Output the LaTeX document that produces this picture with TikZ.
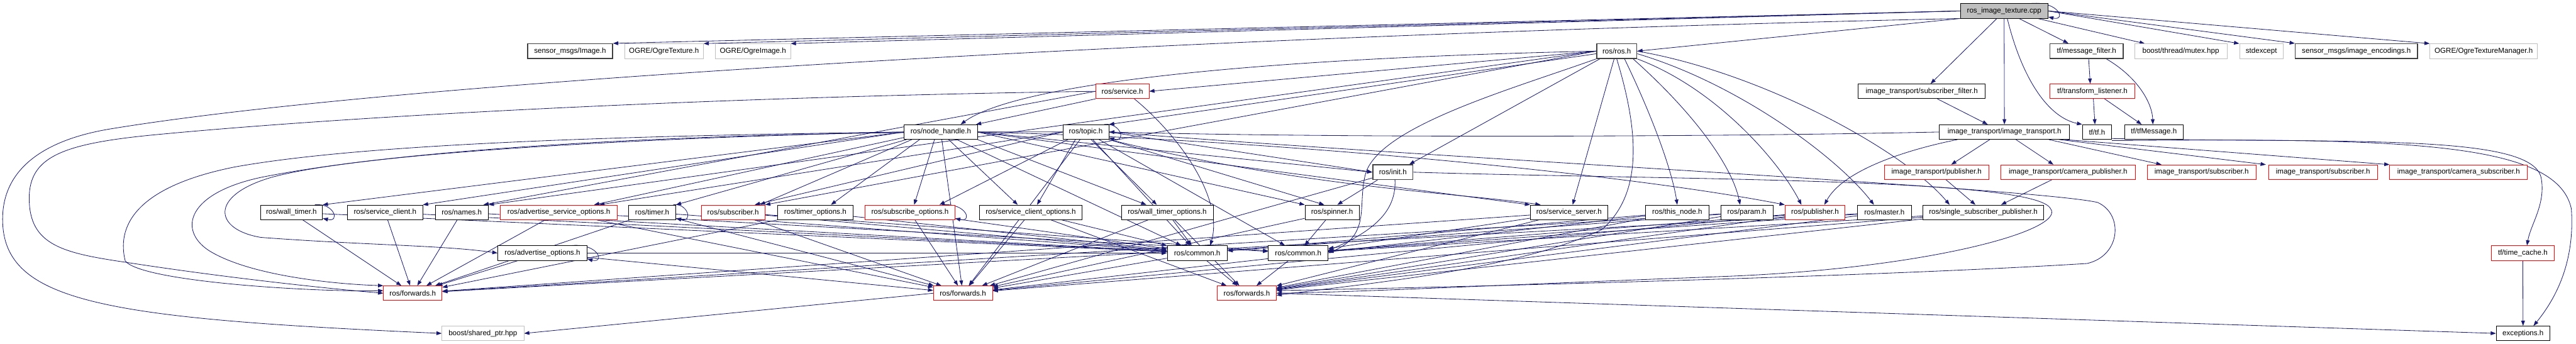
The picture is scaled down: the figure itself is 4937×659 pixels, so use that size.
\documentclass[tikz,border=0pt]{standalone}
\usepackage{fontspec}
\setmainfont{Liberation Sans}
\usetikzlibrary{arrows.meta,calc}
\definecolor{ed}{RGB}{25,25,112}
\definecolor{lgr}{RGB}{191,191,191}
\pgfdeclarelayer{bg}
\pgfsetlayers{bg,main}
\tikzset{
  nd/.style={draw=black, line width=0.5pt, fill=white, rectangle, minimum height=14pt, inner sep=0pt, font=\fontsize{7}{8}\selectfont},
  rd/.style={nd, draw=red},
  lg/.style={nd, draw=lgr},
  dk/.style={nd, draw=black!75, line width=0.9pt},
  edg/.style={draw=ed, line width=0.5pt, -{Triangle[length=5pt,width=3.6pt]}},
}
\begin{document}
\begin{tikzpicture}[x=0.5pt,y=-0.5pt]
\useasboundingbox (0,0) rectangle (4937,659);
% row 0
\node[nd, fill=lgr, minimum width=84pt] (cpp) at (3841,21) {ros\_image\_texture.cpp};
% row 1
\node[dk, minimum width=81.5pt] (smimg) at (1092.5,98) {sensor\_msgs/Image.h};
\node[lg, minimum width=75.5pt] (ogtex) at (1272.5,98) {OGRE/OgreTexture.h};
\node[lg, minimum width=72pt] (ogimg) at (1443,98) {OGRE/OgreImage.h};
\node[dk, minimum width=38.5pt] (ros) at (3098.5,98) {ros/ros.h};
\node[dk, minimum width=70pt] (mf) at (3999,98) {tf/message\_filter.h};
\node[lg, minimum width=88.5pt] (mutex) at (4179.5,98) {boost/thread/mutex.hpp};
\node[lg, minimum width=42pt] (stdex) at (4334,98) {stdexcept};
\node[dk, minimum width=117pt] (enc) at (4516,98) {sensor\_msgs/image\_encodings.h};
\node[lg, minimum width=103pt] (ogtm) at (4760,98) {OGRE/OgreTextureManager.h};
% row 2
\node[rd, minimum width=51pt] (svc) at (2151,175) {ros/service.h};
\node[nd, minimum width=122pt] (sf) at (3683,175) {image\_transport/subscriber\_filter.h};
\node[rd, minimum width=81pt] (tl) at (4010,175) {tf/transform\_listener.h};
% row 3
\node[nd, minimum width=70pt] (nh) at (1803,253) {ros/node\_handle.h};
\node[nd, minimum width=44pt] (topic) at (2081,253) {ros/topic.h};
\node[nd, minimum width=124.5pt] (it) at (3841.5,253) {image\_transport/image\_transport.h};
\node[nd, minimum width=28pt] (tf) at (4019,253) {tf/tf.h};
\node[nd, minimum width=56pt] (tfm) at (4128,253) {tf/tfMessage.h};
% row 4
\node[dk, minimum width=38.5pt] (init) at (2669.5,330) {ros/init.h};
\node[rd, minimum width=100.5pt] (itpub) at (3711.5,330) {image\_transport/publisher.h};
\node[rd, minimum width=128.5pt] (itcp) at (3963.5,330) {image\_transport/camera\_publisher.h};
\node[rd, minimum width=104.5pt] (itsub1) at (4219.5,330) {image\_transport/subscriber.h};
\node[rd, minimum width=104pt] (itsub2) at (4452,330) {image\_transport/subscriber.h};
\node[rd, minimum width=132pt] (itcs) at (4712,330) {image\_transport/camera\_subscriber.h};
% row 5
\node[nd, minimum width=59.5pt] (wt) at (558.5,407) {ros/wall\_timer.h};
\node[nd, minimum width=72pt] (sc) at (738,407) {ros/service\_client.h};
\node[nd, minimum width=51pt] (names) at (885,407) {ros/names.h};
\node[rd, minimum width=112pt] (aso) at (1071,407) {ros/advertise\_service\_options.h};
\node[nd, minimum width=45pt] (timer) at (1250,407) {ros/timer.h};
\node[rd, minimum width=61pt] (sub) at (1405,407) {ros/subscriber.h};
\node[nd, minimum width=72.5pt] (tmo) at (1562.5,407) {ros/timer\_options.h};
\node[rd, minimum width=86pt] (so) at (1744,407) {ros/subscribe\_options.h};
\node[nd, minimum width=98.5pt] (sco) at (1975.5,407) {ros/service\_client\_options.h};
\node[nd, minimum width=88pt] (wto) at (2237,407) {ros/wall\_timer\_options.h};
\node[nd, minimum width=52pt] (spin) at (2553,407) {ros/spinner.h};
\node[nd, minimum width=74pt] (ss) at (3007,407) {ros/service\_server.h};
\node[nd, minimum width=60.5pt] (tn) at (3214.5,407) {ros/this\_node.h};
\node[nd, minimum width=50pt] (param) at (3348,407) {ros/param.h};
\node[rd, minimum width=57.5pt] (pub) at (3478.5,407) {ros/publisher.h};
\node[nd, minimum width=51.5pt] (master) at (3611.5,407) {ros/master.h};
\node[nd, minimum width=116pt] (ssp) at (3801,407) {ros/single\_subscriber\_publisher.h};
% row 6
\node[nd, minimum width=85.5pt] (ao) at (1039.5,485) {ros/advertise\_options.h};
\node[nd, minimum width=57.5pt] (com1) at (2294.5,485) {ros/common.h};
\node[nd, minimum width=57pt] (com2) at (2488,485) {ros/common.h};
\node[rd, minimum width=60pt] (tc) at (4835,485) {tf/time\_cache.h};
% row 7
\node[rd, minimum width=56pt] (fw1) at (791,562) {ros/forwards.h};
\node[rd, minimum width=56.5pt] (fw2) at (1845.5,562) {ros/forwards.h};
\node[rd, minimum width=56.5pt] (fw3) at (2389.5,562) {ros/forwards.h};
% row 8
\node[lg, minimum width=78.5pt] (shp) at (925.5,639) {boost/shared\_ptr.hpp};
\node[nd, minimum width=51.5pt] (exc) at (4835.5,639) {exceptions.h};

\begin{pgfonlayer}{bg}
% ---- cpp
\draw[edg] ($(cpp.north east)+(-32,0)$) .. controls ($(cpp.north east)+(22,-4)$) and ($(cpp.south east)+(34,5)$) .. ($(cpp.south east)+(0,-3)$);
\draw[edg] (cpp.west) -- (smimg.north east);
\draw[edg] (cpp.west) -- (ogtex.north east);
\draw[edg] (cpp.west) -- (ogimg.north east);
\draw[edg] (cpp.south west) -- (ros.east);
\draw[edg] (cpp.south west) .. controls (2400,65) and (800,150) .. (212,247) .. controls (90,267) and (5,320) .. (5,420) .. controls (5,580) and (200,610) .. (shp.west);
\draw[edg] ($(cpp.south)+(-14,0)$) -- ($(sf.north)+(17,0)$);
\draw[edg] (cpp.south) -- (it.north);
\draw[edg] ($(cpp.south)+(6,0)$) .. controls (3875,150) and (3925,225) .. (tf.north west);
\draw[edg] ($(cpp.south east)+(-56,0)$) -- ($(mf.north west)+(36,0)$);
\draw[edg] ($(cpp.south east)+(-20,0)$) -- ($(mutex.north west)+(20,0)$);
\draw[edg] (cpp.east) -- (stdex.north west);
\draw[edg] (cpp.east) -- (enc.north west);
\draw[edg] (cpp.east) -- (ogtm.north west);
% ---- ros
\draw[edg] (ros.west) -- (svc.east);
\draw[edg] (ros.west) .. controls (2400,112) and (1950,160) .. ($(nh.north)+(38,0)$);
\draw[edg] ($(ros.west)+(0,5)$) -- (topic.north east);
\draw[edg] ($(ros.south west)+(7,0)$) -- ($(init.north east)+(-8,0)$);
\draw[edg] (ros.south west) .. controls (2900,170) and (2650,240) .. (2618,330) .. controls (2600,390) and (2630,450) .. (com2.east);
\draw[edg] ($(ros.south)+(-5,0)$) -- ($(ss.north)+(7,0)$);
\draw[edg] (ros.south) .. controls (3140,250) and (3150,370) .. (3070,440) .. controls (2900,520) and (2600,545) .. ($(fw3.east)+(0,4)$);
\draw[edg] ($(ros.south)+(15,0)$) .. controls (3170,230) and (3205,330) .. (tn.north);
\draw[edg] ($(ros.south east)+(-8,0)$) .. controls (3250,220) and (3320,320) .. ($(param.north)+(-13,0)$);
\draw[edg] (ros.south east) .. controls (3290,170) and (3410,310) .. ($(pub.north)+(-26,0)$);
\draw[edg] ($(ros.east)+(0,5)$) .. controls (3330,160) and (3520,300) .. ($(master.north)+(-20,0)$);
\draw[edg] (ros.east) .. controls (3380,140) and (3650,290) .. ($(ssp.north west)+(52,0)$);
\draw[edg] (ros.west) -- (sub.north east);
\draw[edg] (ros.west) -- (names.north east);
% ---- service
\draw[edg] (svc.south west) -- ($(nh.north east)+(-3,0)$);
\draw[edg] (svc.west) -- ($(names.north east)+(-10,0)$);
\draw[edg] (svc.west) .. controls (1400,185) and (700,220) .. (300,258) .. controls (120,275) and (56,300) .. (56,380) .. controls (56,470) and (120,485) .. (243,503) .. controls (450,535) and (650,555) .. (fw1.west);
\draw[edg] ($(svc.south)+(23,0)$) .. controls (2260,260) and (2345,380) .. ($(com1.north)+(25,0)$);
% ---- tf side
\draw[edg] ($(sf.south)+(30,0)$) -- ($(it.north)+(-32,0)$);
\draw[edg] ($(mf.south)+(4,0)$) -- ($(tl.north)+(-4,0)$);
\draw[edg] ($(mf.south east)+(-33,0)$) .. controls (4100,150) and (4125,200) .. ($(tfm.north)+(-2,0)$);
\draw[edg] ($(tl.south)+(2,0)$) -- ($(tf.north)+(-4,0)$);
\draw[edg] ($(tl.south east)+(-58,0)$) -- ($(tfm.north west)+(33,0)$);
\draw[edg] ($(tf.south east)+(0,-2)$) .. controls (4500,275) and (4850,255) .. (4870,340) .. controls (4880,390) and (4850,430) .. ($(tc.north)+(8,0)$);
\draw[edg] ($(tf.south east)+(0,2)$) .. controls (4600,265) and (4900,270) .. (4928,400) .. controls (4935,500) and (4900,570) .. ($(exc.north)+(20,0)$);
\draw[edg] (tc.south) -- (exc.north);
% ---- image transport
\draw[edg] ($(it.south)+(-28,0)$) -- ($(itpub.north)+(28,0)$);
\draw[edg] ($(it.south)+(22,0)$) -- ($(itcp.north)+(-28,0)$);
\draw[edg] ($(it.south east)+(-40,0)$) -- ($(itsub1.north west)+(28,0)$);
\draw[edg] ($(it.south east)+(-20,0)$) -- ($(itsub2.north west)+(-5,0)$);
\draw[edg] ($(it.south east)+(-10,0)$) -- (itcs.north west);
\draw[edg] ($(it.south west)+(35,0)$) .. controls (3640,290) and (3530,330) .. ($(pub.north)+(18,0)$);
\draw[edg] (it.west) .. controls (3300,262) and (2600,265) .. (topic.east);
\draw[edg] ($(itpub.south)+(18,0)$) -- ($(ssp.north)+(-15,0)$);
\draw[edg] ($(itcp.south west)+(98,0)$) -- ($(ssp.north)+(34,0)$);
% ---- node_handle
\draw[edg] (nh.west) -- (wt.north east);
\draw[edg] (nh.west) -- (sc.north east);
\draw[edg] ($(nh.south west)+(0,-4)$) -- ($(aso.north east)+(-45,0)$);
\draw[edg] ($(nh.south west)+(5,0)$) -- (timer.north east);
\draw[edg] ($(nh.south west)+(15,0)$) -- ($(sub.north east)+(-10,0)$);
\draw[edg] ($(nh.south west)+(30,0)$) -- ($(tmo.north)+(30,0)$);
\draw[edg] ($(nh.south)+(-12,0)$) -- ($(so.north)+(8,0)$);
\draw[edg] ($(nh.south)+(15,0)$) -- ($(sco.north)+(-25,0)$);
\draw[edg] (nh.south east) -- ($(wto.north)+(-40,0)$);
\draw[edg] (nh.east) -- (spin.north west);
\draw[edg] (nh.east) -- (ss.north west);
\draw[edg] (nh.east) .. controls (2400,265) and (3100,330) .. (pub.north west);
\draw[edg] (nh.east) -- (init.west);
\draw[edg] (nh.west) .. controls (1300,262) and (700,290) .. (520,340) .. controls (400,375) and (410,440) .. (500,455) .. controls (700,470) and (850,470) .. (ao.west);
\draw[edg] (nh.west) .. controls (1200,260) and (700,275) .. (450,320) .. controls (250,360) and (225,440) .. (240,500) .. controls (270,540) and (600,560) .. ($(fw1.west)+(0,-5)$);
% ---- topic
\draw[edg] ($(topic.north east)+(-9,0)$) .. controls ($(topic.north east)+(22,-4)$) and ($(topic.south east)+(34,5)$) .. ($(topic.south east)+(0,-3)$);
\draw[edg] (topic.west) -- ($(sub.north east)+(-20,0)$);
\draw[edg] (topic.west) -- ($(aso.north east)+(-35,0)$);
\draw[edg] ($(topic.south west)+(10,0)$) -- ($(so.north east)+(-30,0)$);
\draw[edg] ($(topic.south)+(-20,0)$) -- ($(sco.north)+(12,0)$);
\draw[edg] ($(topic.south)+(10,0)$) -- ($(wto.north)+(-20,0)$);
\draw[edg] (topic.south east) -- ($(spin.north)+(-15,0)$);
\draw[edg] (topic.south east) .. controls (2500,360) and (2800,370) .. ($(ss.north west)+(20,0)$);
\draw[edg] (topic.east) -- (init.west);
\draw[edg] (topic.west) .. controls (1400,250) and (800,280) .. (500,340) .. controls (360,370) and (340,440) .. (400,480) .. controls (480,530) and (650,545) .. (fw1.north west);
\draw[edg] (topic.east) .. controls (2700,300) and (3900,360) .. (4020,388) .. controls (4070,410) and (4065,490) .. (4000,505) .. controls (3600,530) and (2800,550) .. ($(fw3.east)+(0,-5)$);
% ---- init
\draw[edg] ($(init.south west)+(10,0)$) -- ($(spin.north)+(10,0)$);
\draw[edg] ($(init.south)+(4,0)$) .. controls (2676,400) and (2640,440) .. ($(com2.east)+(0,-5)$);
\draw[edg] (init.east) .. controls (3200,345) and (3900,340) .. (3930,400) .. controls (3960,440) and (3700,515) .. (3300,530) .. controls (2900,545) and (2600,560) .. (fw3.east);
\draw[edg] (init) -- (fw2);
% ---- self loops
\draw[edg] ($(wt.north east)+(-15,0)$) .. controls ($(wt.north east)+(22,-4)$) and ($(wt.south east)+(34,5)$) .. ($(wt.south east)+(0,-3)$);
\draw[edg] ($(timer.north east)+(-5,0)$) .. controls ($(timer.north east)+(22,-4)$) and ($(timer.south east)+(34,5)$) .. ($(timer.south east)+(0,-3)$);
\draw[edg] ($(so.north east)+(-25,0)$) .. controls ($(so.north east)+(22,-4)$) and ($(so.south east)+(34,5)$) .. ($(so.south east)+(0,-3)$);
\draw[edg] ($(ao.north east)+(-29,0)$) .. controls ($(ao.north east)+(22,-4)$) and ($(ao.south east)+(34,5)$) .. ($(ao.south east)+(0,-3)$);
% ---- to common / forwards
\foreach \p/\q in {wt/com1, wt/fw1, sc/com1, sc/fw1, names/com1, names/fw1, aso/com2, aso/fw1, aso/fw2,
  timer/com1, timer/fw1, timer/fw2, sub/com1, sub/com2, sub/fw2, tmo/com1, tmo/fw1, so/com1, so/fw2,
  sco/com1, sco/fw2, sco/fw3, wto/com1, wto/fw2, wto/fw3, spin/com2, spin/fw2, ss/com2, ss/fw1, ss/fw3,
  tn/com1, tn/fw2, tn/fw3, param/com1, param/fw1, param/fw3, pub/com2, pub/fw2, pub/fw3,
  master/com2, master/fw1, master/fw3, ssp/com2, ssp/fw2, ssp/fw3, ao/com1, ao/fw1, ao/fw2,
  com1/fw2, com1/fw3, com2/fw3, nh/com1, nh/fw2, topic/com1, topic/com2, topic/fw2}
  \draw[edg] (\p) -- (\q);
\draw[edg] (fw2.west) -- (shp.east);
\draw[edg] (fw3.east) -- (exc.west);
\end{pgfonlayer}
\end{tikzpicture}
\end{document}
